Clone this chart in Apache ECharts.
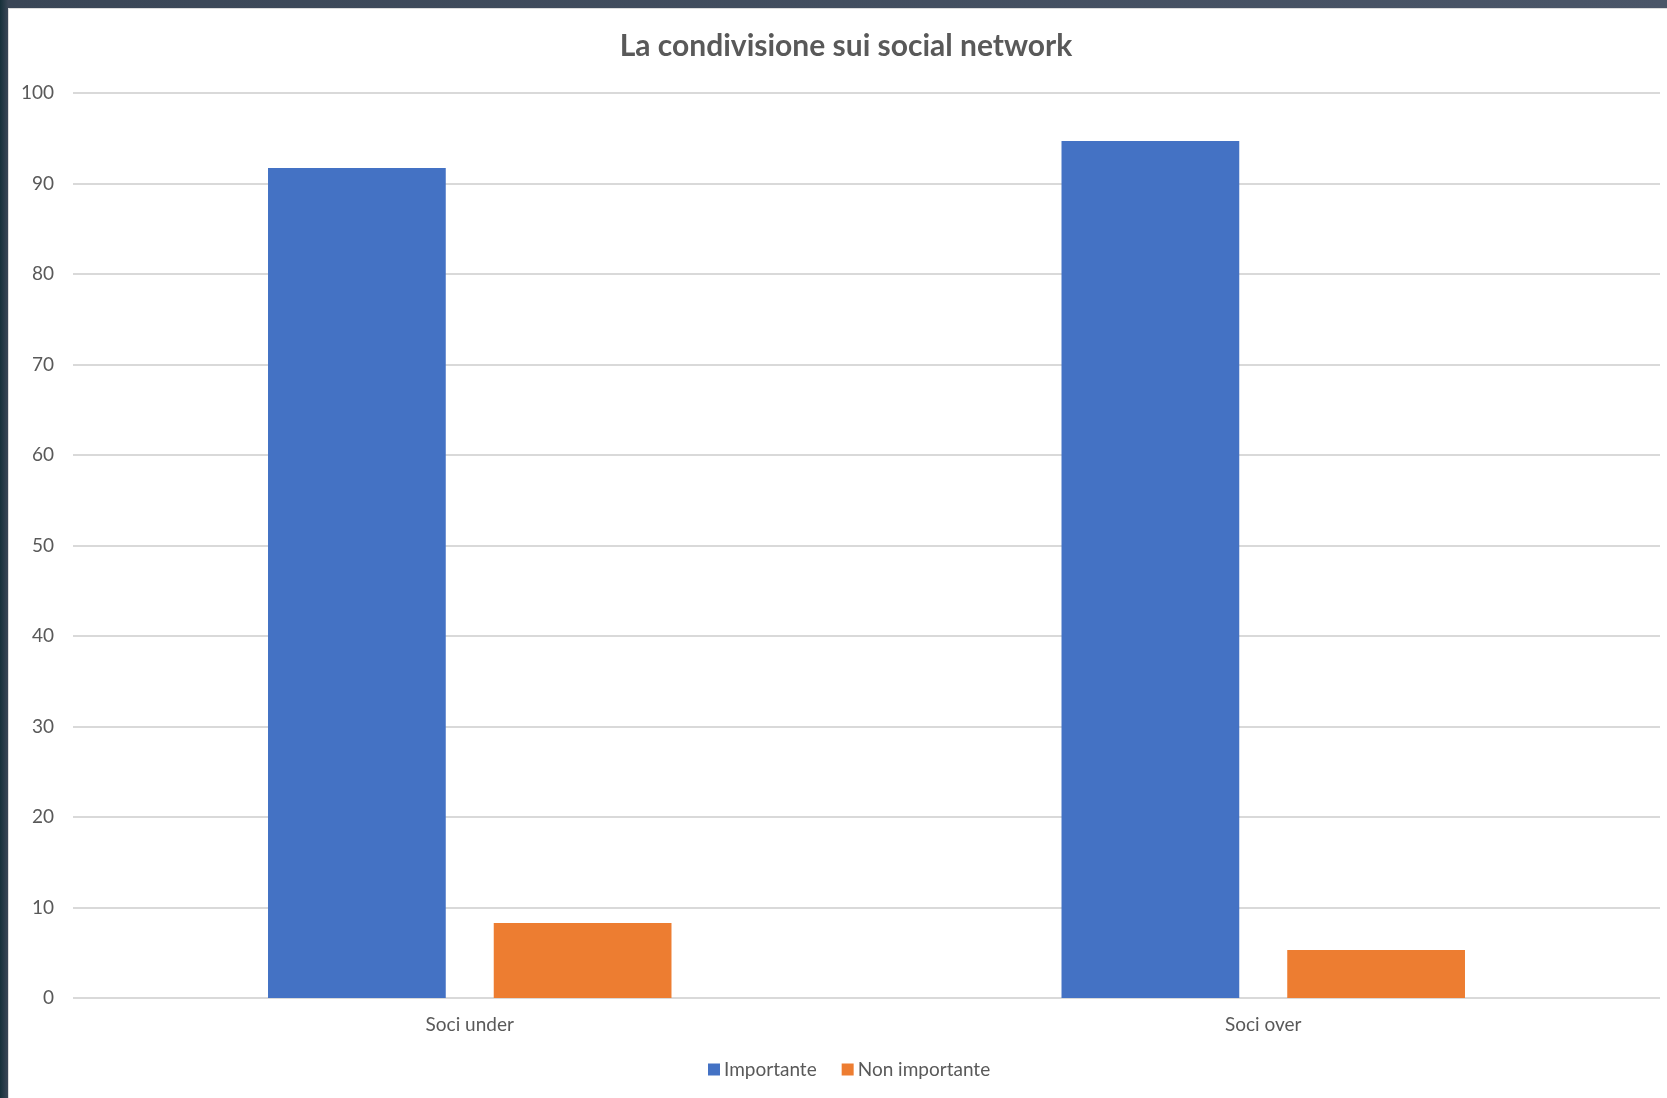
<!DOCTYPE html>
<html>
<head>
<meta charset="utf-8">
<script src="https://cdn.jsdelivr.net/npm/echarts@6/dist/echarts.min.js"></script>
<style>
  html, body { margin: 0; padding: 0; width: 1667px; height: 1098px; overflow: hidden;
    background: linear-gradient(90deg, #16303a 0px, #3a4656 8px, #4b5668 100%); }
  #chart { position: absolute; left: 8px; top: 8px; width: 1659px; height: 1090px;
    background: #ffffff; border-left: 1px solid #dcdcdc; border-top: 1px solid #dcdcdc; box-sizing: border-box; }
</style>
</head>
<body>
<div id="chart"></div>
<script>
// Chart data
const categories = ['Soci under', 'Soci over'];
const seriesNames = ['Importante', 'Non importante'];
const importante = [91.7, 94.7];
const nonImportante = [8.3, 5.3];

const textColor = '#595959';
const fontFamily = 'Lato, "Open Sans", sans-serif';

const chart = echarts.init(document.getElementById('chart'), null, { renderer: 'canvas' });

chart.setOption({
  animation: false,
  backgroundColor: '#ffffff',
  title: {
    text: 'La condivisione sui social network',
    left: 832,
    textAlign: 'center',
    top: 17,
    textStyle: { color: textColor, fontSize: 30, fontWeight: 'bold', fontFamily: fontFamily }
  },
  legend: {
    data: seriesNames,
    bottom: 14,
    left: 694,
    itemWidth: 12,
    itemHeight: 12,
    itemGap: 25,
    icon: 'rect',
    textStyle: { color: textColor, fontSize: 19, fontFamily: fontFamily, padding: [0, 0, 0, -1] }
  },
  grid: { left: 64, right: 7, top: 84, bottom: 100, containLabel: false },
  xAxis: {
    type: 'category',
    data: categories,
    axisLine: { show: false },
    axisTick: { show: false },
    axisLabel: { color: textColor, fontSize: 19, fontFamily: fontFamily, margin: 17 }
  },
  yAxis: {
    type: 'value',
    min: 0,
    max: 100,
    interval: 10,
    axisLine: { show: false },
    axisTick: { show: false },
    axisLabel: { color: textColor, fontSize: 19, fontFamily: fontFamily, margin: 19 },
    splitLine: { lineStyle: { color: '#d9d9d9', width: 2 } }
  },
  series: [
    {
      name: seriesNames[0],
      type: 'bar',
      data: importante,
      barWidth: '22.4%',
      barGap: '27%',
      itemStyle: { color: '#4472C4' }
    },
    {
      name: seriesNames[1],
      type: 'bar',
      data: nonImportante,
      barWidth: '22.4%',
      itemStyle: { color: '#ED7D31' }
    }
  ]
});
</script>
</body>
</html>
